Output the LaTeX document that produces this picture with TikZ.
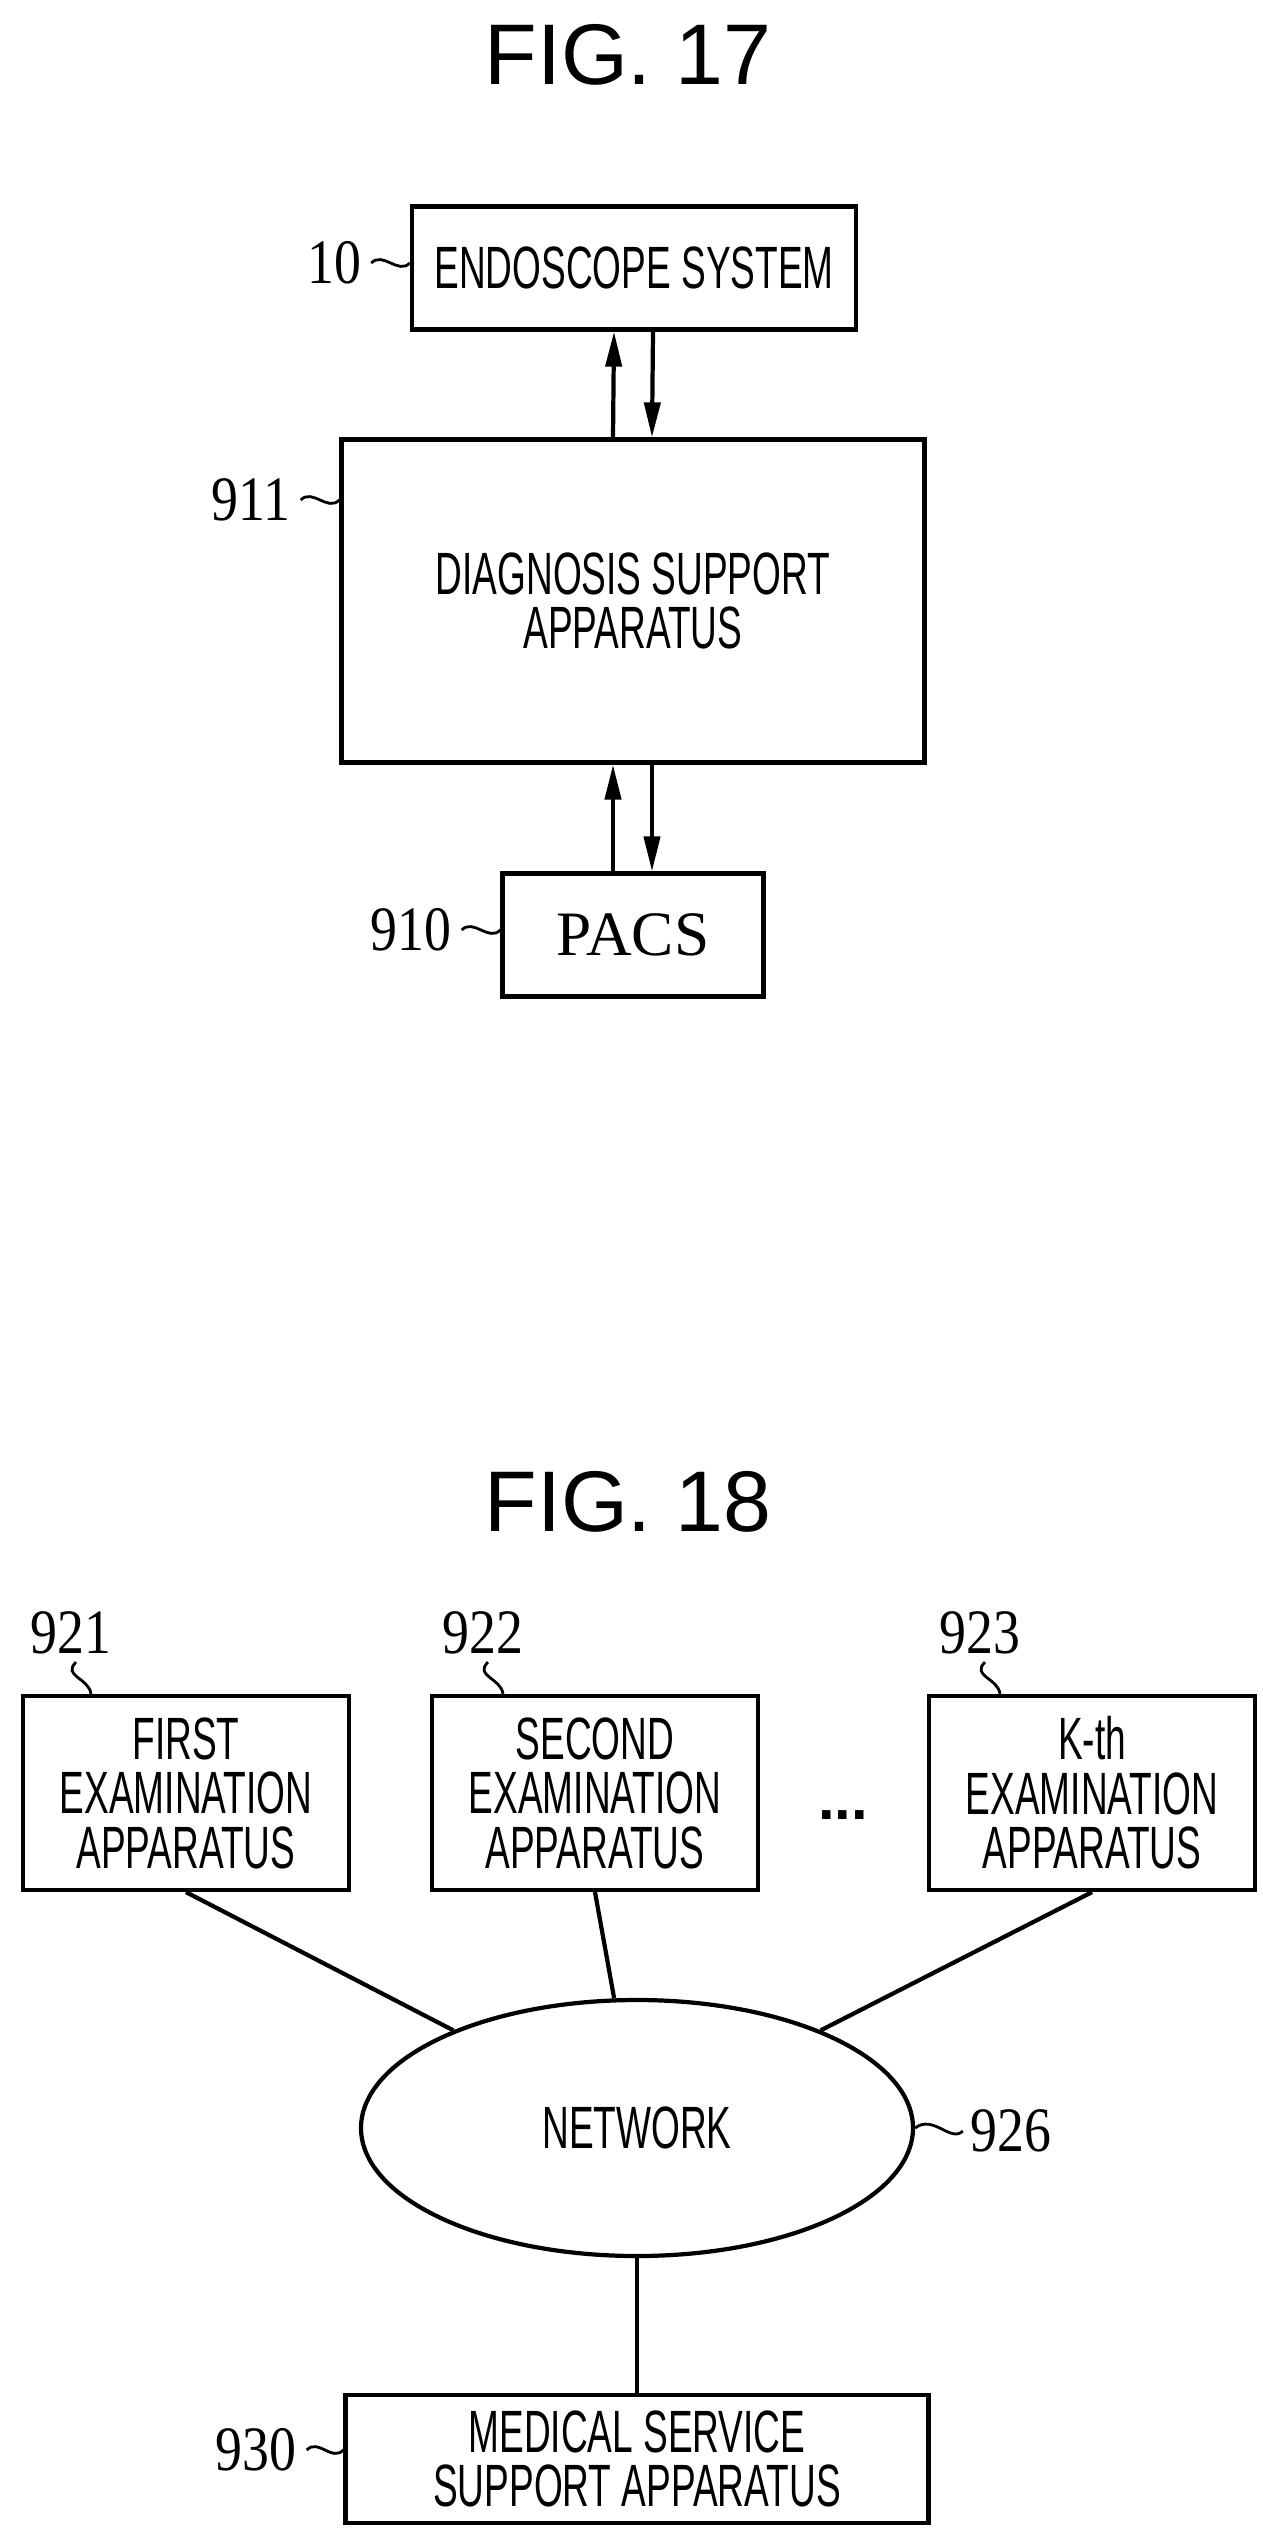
\documentclass[tikz,border=0pt]{standalone}
\usepackage{fontspec}
\setmainfont{Liberation Sans}
\newfontfamily\narrowsf{Liberation Sans}[FakeStretch=0.62]
\newfontfamily\numserif{Liberation Serif}[FakeStretch=0.85]
\newfontfamily\plainserif{Liberation Serif}
\usepackage{tikz}
\usetikzlibrary{
  arrows.meta,
  shapes.geometric
}

\begin{document}
\begin{tikzpicture}[x=0.02cm,y=-0.02cm,
    box/.style={draw,line width=2.4pt,inner sep=0pt,align=center,
        font=\narrowsf\fontsize{34}{31}\selectfont},
    refnum/.style={font=\numserif\fontsize{36}{36}\selectfont,inner sep=0pt},
    title/.style={font=\fontsize{49}{49}\selectfont},
    link/.style={line width=2.4pt},
    arrow/.style={line width=2.4pt,-{Triangle[length=0.7cm,width=0.32cm]}},
    lead/.style={line width=1.6pt}
  ]
  \useasboundingbox (0,0) rectangle (1263,2534);

  % FIG. 17
  \node[title] (fig17) at (628,55) {FIG. 17};
  \node[box,minimum width=444*0.02cm,minimum height=123*0.02cm] (endo) at (634,268) {ENDOSCOPE SYSTEM};
  \node[box,minimum width=583*0.02cm,minimum height=323*0.02cm] (diag) at (633,601) {DIAGNOSIS SUPPORT\\APPARATUS};
  \node[box,minimum width=261*0.02cm,minimum height=123*0.02cm,
        font=\plainserif\fontsize{36}{36}\selectfont] (pacs) at (633,935) {PACS};

  \draw[arrow] ([xshift=-0.4cm]diag.north) -- ([xshift=-0.4cm]endo.south);
  \draw[arrow] ([xshift=0.38cm]endo.south) -- ([xshift=0.38cm]diag.north);
  \draw[arrow] ([xshift=-0.4cm]pacs.north) -- ([xshift=-0.4cm]diag.south);
  \draw[arrow] ([xshift=0.38cm]diag.south) -- ([xshift=0.38cm]pacs.north);

  % 符号
  \node[refnum] (l10) at (334,263) {10};
  \node[refnum] (l911) at (251,500) {911};
  \node[refnum] (l910) at (411,930) {910};
  \draw[lead] ([xshift=0.2cm]l10.east) .. controls +(12,-12) and +(-12,12) .. (endo.west |- l10);
  \draw[lead] ([xshift=0.2cm]l911.east) .. controls +(12,-12) and +(-12,12) .. (diag.west |- l911);
  \draw[lead] ([xshift=0.2cm]l910.east) .. controls +(12,-12) and +(-12,12) .. (pacs.west |- l910);

  % FIG. 18
  \node[title] (fig18) at (628,1502) {FIG. 18};
  \node[box,minimum width=326*0.02cm,minimum height=194*0.02cm] (exam1) at (186,1793) {FIRST\\EXAMINATION\\APPARATUS};
  \node[box,minimum width=326*0.02cm,minimum height=194*0.02cm] (exam2) at (595,1793) {SECOND\\EXAMINATION\\APPARATUS};
  \node[box,minimum width=326*0.02cm,minimum height=194*0.02cm] (examk) at (1092,1793) {K-th\\EXAMINATION\\APPARATUS};
  \node[font=\bfseries\fontsize{34}{34}\selectfont] (dots) at (843,1815) {...};
  \node[box,ellipse,minimum width=552*0.02cm,minimum height=256*0.02cm] (net) at (637,2128) {NETWORK};
  \node[box,minimum width=583*0.02cm,minimum height=128*0.02cm] (med) at (637,2459) {MEDICAL SERVICE\\SUPPORT APPARATUS};

  \draw[link] (exam1.south) -- (net.152);
  \draw[link] (exam2.south) -- (net.100);
  \draw[link] (examk.south) -- (net.28);
  \draw[link] (net.south) -- (med.north);

  % 符号
  \node[refnum] (l921) at (71,1633) {921};
  \node[refnum] (l922) at (483,1633) {922};
  \node[refnum] (l923) at (980,1633) {923};
  \node[refnum] (l926) at (1011,2131) {926};
  \node[refnum] (l930) at (256,2450) {930};
  \draw[lead] ([xshift=0.1cm,yshift=-0.15cm]l921.south) .. controls +(-14,14) and +(-2,-16) .. ([xshift=0.4cm]l921.south |- exam1.north);
  \draw[lead] ([xshift=0.1cm,yshift=-0.15cm]l922.south) .. controls +(-14,14) and +(-2,-16) .. ([xshift=0.4cm]l922.south |- exam2.north);
  \draw[lead] ([xshift=0.1cm,yshift=-0.15cm]l923.south) .. controls +(-14,14) and +(-2,-16) .. ([xshift=0.4cm]l923.south |- examk.north);
  \draw[lead] (net.east) .. controls +(18,-14) and +(-12,12) .. ([xshift=-0.15cm]l926.west);
  \draw[lead] ([xshift=0.2cm]l930.east) .. controls +(12,-12) and +(-12,12) .. (med.west |- l930);
\end{tikzpicture}
\end{document}
